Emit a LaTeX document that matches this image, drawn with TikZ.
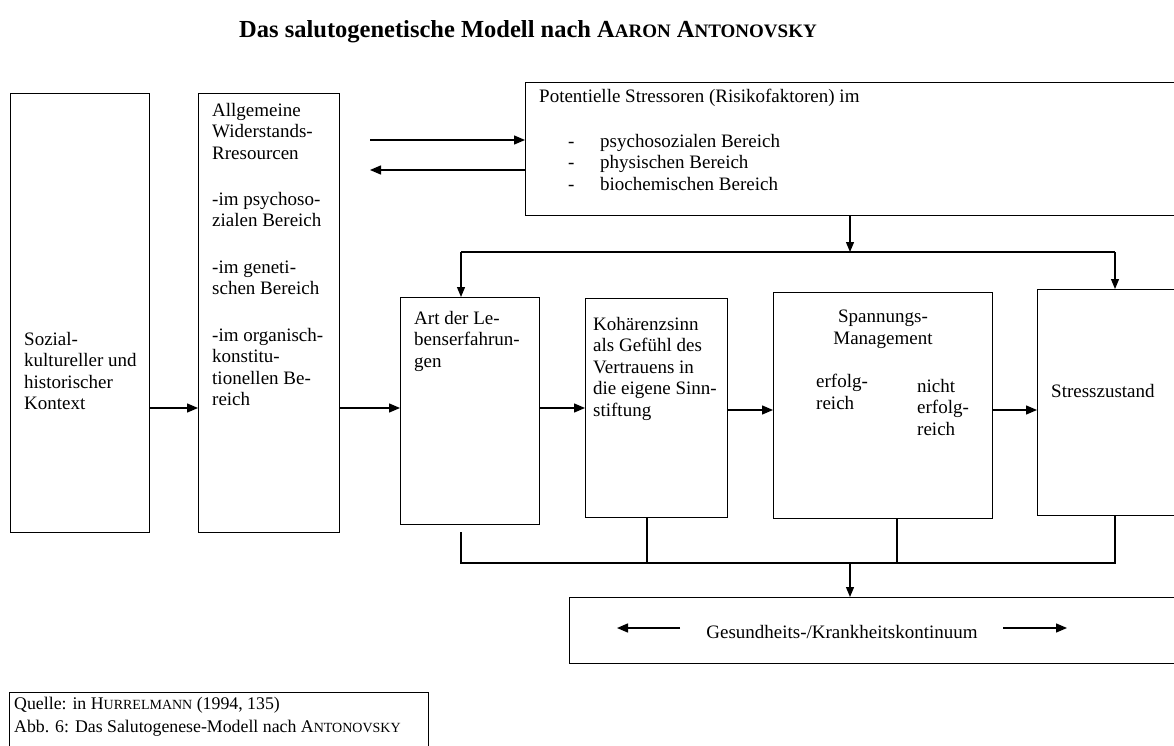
\documentclass[tikz,border=0pt]{standalone}
\usepackage{fontspec}
\setmainfont{Liberation Serif}
\usetikzlibrary{arrows.meta}
\newcommand\smc[2]{{\fontsize{#1}{#1}\selectfont #2}}
\tikzset{
 box/.style={draw, line width=1.4pt, inner sep=0pt, anchor=north west},
 txt/.style={inner sep=0pt, anchor=north west, align=left, font=\fontsize{19}{21.5}\selectfont},
 arr/.style={line width=1.4pt, -{Triangle[length=11pt,width=9pt]}},
 arrt/.style={line width=1.2pt, -{Triangle[length=10pt,width=8pt]}},
 ln/.style={line width=1.2pt},
}
\begin{document}
\begin{tikzpicture}[x=1pt,y=-1pt]
\useasboundingbox (0,0) rectangle (1174,746);
\clip (0,0) rectangle (1174,746);
\fill[white] (0,0) rectangle (1174,746);

% title
\node[inner sep=0pt, anchor=base, font=\bfseries\fontsize{24.5}{24.5}\selectfont] (title) at (528,38)
  {Das salutogenetische Modell nach A\smc{19}{ARON} A\smc{19}{NTONOVSKY}};

% boxes
\node[box, minimum width=139pt, minimum height=439pt] (b1) at (10,93) {};
\node[box, minimum width=141pt, minimum height=439pt] (b2) at (198,93) {};
\node[box, minimum width=700pt, minimum height=133pt] (st) at (525,82) {};
\node[box, minimum width=139pt, minimum height=227pt] (b3) at (400,297) {};
\node[box, minimum width=142pt, minimum height=219pt] (b4) at (585,298) {};
\node[box, minimum width=219pt, minimum height=226pt] (b5) at (773,292) {};
\node[box, minimum width=200pt, minimum height=226pt] (b6) at (1037,289) {};
\node[box, minimum width=700pt, minimum height=66pt] (ge) at (569,597) {};
\node[box, minimum width=419pt, minimum height=80pt] (src) at (9,692) {};

% texts
\node[txt] (t1) at (24,332) {Sozial-\\kultureller und\\historischer\\Kontext};
\node[txt] (t2) at (212,103) {Allgemeine\\Widerstands-\\Rresourcen\\[24.5pt]-im psychoso-\\zialen Bereich\\[25pt]-im geneti-\\schen Bereich\\[25pt]-im organisch-\\konstitu-\\tionellen Be-\\reich};
\node[txt] (t3a) at (539,89) {Potentielle Stressoren (Risikofaktoren) im};
\node[txt] (t3b) at (568,134) {\makebox[32pt][l]{-}psychosozialen Bereich\\\makebox[32pt][l]{-}physischen Bereich\\\makebox[32pt][l]{-}biochemischen Bereich};
\node[txt] (t4) at (414,311) {Art der Le-\\benserfahrun-\\gen};
\node[txt] (t5) at (593,317) {Kohärenzsinn\\als Gefühl des\\Vertrauens in\\die eigene Sinn-\\stiftung};
\node[txt, anchor=north, align=center] (t6) at (883,310) {Spannungs-\\Management};
\node[txt] (t7) at (816,374) {erfolg-\\reich};
\node[txt] (t8) at (917,379) {nicht\\erfolg-\\reich};
\node[txt] (t9) at (1051,384) {Stresszustand};
\node[txt, anchor=base] (gt) at (842,638) {Gesundheits-/Krankheitskontinuum};
\node[inner sep=0pt, anchor=north west, align=left, font=\fontsize{17.8}{23}\selectfont] (srct) at (14,697)
  {Quelle: in H\smc{14}{URRELMANN} (1994, 135)\\Abb. 6: Das Salutogenese-Modell nach A\smc{14}{NTONOVSKY}};

% main flow arrows
\draw[arr] (b1.east |- 0,408) -- (b2.west |- 0,408);
\draw[arr] (b2.east |- 0,408) -- (b3.west |- 0,408);
\draw[arr] (b3.east |- 0,408) -- (b4.west |- 0,408);
\draw[arr] (b4.east |- 0,410) -- (b5.west |- 0,410);
\draw[arr] (b5.east |- 0,410) -- (b6.west |- 0,410);

% arrows between resources and stressors
\coordinate (p1) at (370,140);
\coordinate (p2) at (370,170);
\draw[arr] (p1) -- (st.west |- p1);
\draw[arr] (st.west |- p2) -- (p2);

% distribution from stressors
\coordinate (j0) at (850,252);
\coordinate (ja) at (461,252);
\coordinate (jb) at (1115,252);
\draw[arrt] (st.south -| j0) -- (j0);
\draw[ln] (ja) -- (jb);
\draw[arrt] (ja) -- (ja |- b3.north);
\draw[arrt] (jb) -- (jb |- b6.north);

% collection to continuum
\coordinate (ks) at (461,532);
\coordinate (ka) at (461,563);
\coordinate (k4) at (647,563);
\coordinate (k5) at (897,563);
\coordinate (kb) at (1115,563);
\coordinate (kc) at (850,563);
\draw[ln] (ks) -- (ka) -- (kb) -- (kb |- b6.south);
\draw[ln] (k4) -- (k4 |- b4.south);
\draw[ln] (k5) -- (k5 |- b5.south);
\draw[arrt] (kc) -- (kc |- ge.north);

% arrows inside continuum box
\coordinate (gl1) at (680,628);
\coordinate (gl2) at (617,628);
\coordinate (gr1) at (1003,628);
\coordinate (gr2) at (1067,628);
\draw[arr] (gl1) -- (gl2);
\draw[arr] (gr1) -- (gr2);
\end{tikzpicture}
\end{document}
